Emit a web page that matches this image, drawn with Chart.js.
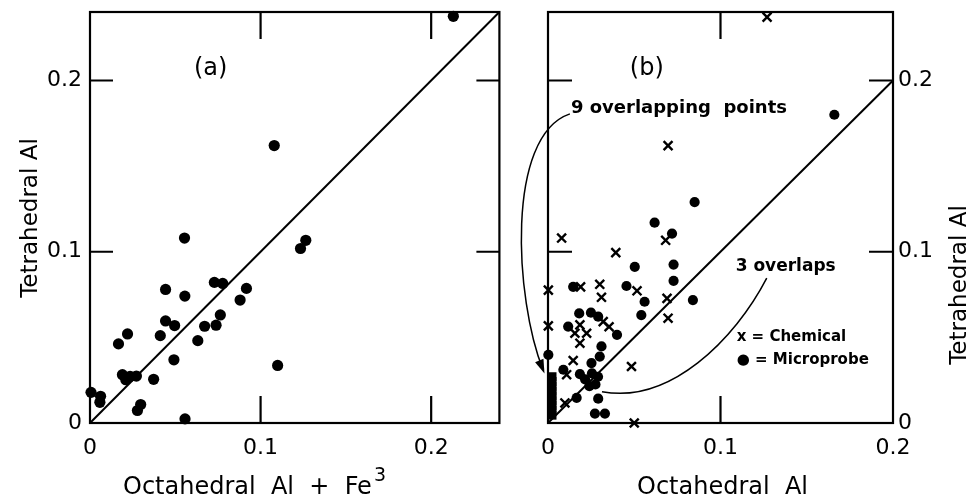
<!DOCTYPE html>
<html>
<head>
<meta charset="utf-8">
<title>Tetrahedral Al vs octahedral Al</title>
<script src="https://cdn.jsdelivr.net/npm/chart.js@4.4.1/dist/chart.umd.min.js"></script>
<style>
  body { margin: 0; background: #fff; }
  #figure { position: relative; width: 974px; height: 501px; }
  #figure canvas { position: absolute; top: 0; }
</style>
</head>
<body>
<div id="figure">
  <canvas id="panelA" width="505" height="501" style="left:0"></canvas>
  <canvas id="panelB" width="469" height="501" style="left:505px"></canvas>
</div>
<script>
"use strict";

// ticks shared by both panels
const tickValues = [0, 0.1, 0.2];
const tickLabels = ["0", "0.1", "0.2"];

// panel (a): octahedral Al + Fe3 against tetrahedral Al
const octaFeA = [0.213, 0.108, 0.0554, 0.1265, 0.1234, 0.0729, 0.0778, 0.0443, 0.0556, 0.0917, 0.088,
    0.0443, 0.0496, 0.0412, 0.022, 0.0167, 0.0672, 0.0739, 0.0764, 0.0632, 0.0492, 0.110, 0.019, 0.021,
    0.0235, 0.0272, 0.0373, 0.0006, 0.0062, 0.0058, 0.0297, 0.0278, 0.0557];
const tetraA = [0.2375, 0.162, 0.108, 0.1067, 0.1019, 0.0821, 0.0815, 0.078, 0.0741, 0.0786, 0.0718,
    0.0596, 0.0569, 0.051, 0.052, 0.0462, 0.0565, 0.0571, 0.0631, 0.0481, 0.0369, 0.0336, 0.0282, 0.0253,
    0.0272, 0.0274, 0.0255, 0.0179, 0.0156, 0.0121, 0.0108, 0.0073, 0.0024];
const oneToOneA = [0, 0.24];

// panel (b): octahedral Al against tetrahedral Al
const chemOcta = [0.127, 0.0696, 0.0079, 0.0393, 0.0682, 0.0002, 0.0189, 0.030, 0.031, 0.0516, 0.069,
    0.0696, 0.032, 0.0354, 0.0002, 0.0185, 0.0156, 0.0224, 0.0185, 0.0146, 0.0484, 0.0108, 0.0098, 0.050];
const chemTetra = [0.237, 0.162, 0.108, 0.0995, 0.1067, 0.0776, 0.0795, 0.081, 0.0734, 0.0772, 0.0728,
    0.0612, 0.0592, 0.0562, 0.0567, 0.0573, 0.0524, 0.0524, 0.0466, 0.0365, 0.033, 0.0282, 0.0117, 0.0];

const probeOcta = [0.166, 0.085, 0.0618, 0.0719, 0.0728, 0.0503, 0.0728, 0.0455, 0.0146, 0.084, 0.056,
    0.0541, 0.0181, 0.0249, 0.0291, 0.0117, 0.040, 0.031, 0.030, 0.0002, 0.0252, 0.0089, 0.0185, 0.0215,
    0.0255, 0.029, 0.0275, 0.024, 0.0291, 0.0166, 0.0272, 0.033];
const probeTetra = [0.180, 0.129, 0.117, 0.1106, 0.0925, 0.0912, 0.083, 0.080, 0.0795, 0.0718, 0.0708,
    0.063, 0.064, 0.0644, 0.0621, 0.0563, 0.0515, 0.0447, 0.0388, 0.0398, 0.035, 0.0311, 0.0285, 0.0255,
    0.029, 0.027, 0.0225, 0.0215, 0.0142, 0.0147, 0.0055, 0.0055];

// the 9 overlapping points on the zero line
const stackOcta = [0.0023, 0.0023, 0.0023, 0.0023, 0.0023, 0.0023, 0.0023, 0.0023, 0.0023];
const stackTetra = [0.0046, 0.0074, 0.0102, 0.013, 0.0158, 0.0186, 0.0214, 0.0242, 0.027];
const oneToOneB = [0, 0.2];

const toPoints = (xs, ys) => xs.map((x, i) => ({ x: x, y: ys[i] }));

Chart.defaults.font.family = "'DejaVu Sans', sans-serif";
Chart.defaults.color = "#000";

/**
 * Frame, inward ticks, notes, pointer curves and axis titles for each panel
 */
const decor = {
    panelA: {
        marks: { top: [0.1, 0.2], bottom: [0.1, 0.2], left: [0.1, 0.2], right: [0.1, 0.2], vLen: 27, hLen: 23 },
        notes: [
            { text: "(a)", x: 0.0707, y: 0.2067, font: "24px 'DejaVu Sans'", align: "center" },
        ],
        curves: [],
        titles: [
            { text: "Tetrahedral Al", ox: -59, oy: -205, rotate: true, font: "23px 'DejaVu Sans'" },
            { text: "Octahedral  Al  +  Fe", sup: "3", ox: 33, oy: 71, font: "24px 'DejaVu Sans'", supFont: "19px 'DejaVu Sans'" },
        ],
    },
    panelB: {
        marks: { top: [0.1], bottom: [0.1], left: [0.1, 0.2], right: [0.1, 0.2], vLen: 27, hLen: 24 },
        notes: [
            { text: "(b)", x: 0.0573, y: 0.2067, font: "24px 'DejaVu Sans'", align: "center" },
            { text: "9 overlapping  points", x: 0.0133, y: 0.184, font: "bold 18px 'DejaVu Sans'" },
            { text: "3 overlaps", x: 0.1088, y: 0.0916, font: "bold 17px 'DejaVu Sans'" },
            { text: "x = Chemical", x: 0.1094, y: 0.0503, font: "bold 15px 'DejaVu Sans'" },
            { text: "\u25CF = Microprobe", x: 0.1094, y: 0.0369, font: "bold 15px 'DejaVu Sans'" },
        ],
        curves: [
            { pts: [[0.0127, 0.1805], [-0.0249, 0.1677], [-0.0191, 0.0718], [-0.0029, 0.0311]], arrow: true },
            { pts: [[0.1268, 0.0846], [0.1082, 0.0485], [0.0706, 0.0108], [0.0313, 0.0183]], arrow: false },
        ],
        titles: [
            { text: "Tetrahedral Al", ox: 412, oy: -138, rotate: true, font: "23px 'DejaVu Sans'" },
            { text: "Octahedral  Al", ox: 89, oy: 71, font: "24px 'DejaVu Sans'" },
        ],
    },
};

const panelDecor = {
    id: "panelDecor",
    afterDraw(chart) {
        const cfg = decor[chart.canvas.id];
        const { ctx, chartArea: area } = chart;
        const px = (v) => chart.scales.x.getPixelForValue(v);
        const py = (v) => chart.scales.y.getPixelForValue(v);

        ctx.save();
        ctx.strokeStyle = "#000";
        ctx.fillStyle = "#000";
        ctx.lineWidth = 2.2;
        ctx.strokeRect(area.left, area.top, area.right - area.left, area.bottom - area.top);

        const m = cfg.marks;
        ctx.beginPath();
        m.top.forEach((v) => { ctx.moveTo(px(v), area.top); ctx.lineTo(px(v), area.top + m.vLen); });
        m.bottom.forEach((v) => { ctx.moveTo(px(v), area.bottom); ctx.lineTo(px(v), area.bottom - m.vLen); });
        m.left.forEach((v) => { ctx.moveTo(area.left, py(v)); ctx.lineTo(area.left + m.hLen, py(v)); });
        m.right.forEach((v) => { ctx.moveTo(area.right, py(v)); ctx.lineTo(area.right - m.hLen, py(v)); });
        ctx.stroke();

        ctx.textBaseline = "middle";
        cfg.notes.forEach((n) => {
            ctx.font = n.font;
            ctx.textAlign = n.align || "left";
            ctx.fillText(n.text, px(n.x), py(n.y));
        });

        ctx.lineWidth = 1.5;
        cfg.curves.forEach((c) => {
            const p = c.pts.map((q) => [px(q[0]), py(q[1])]);
            ctx.beginPath();
            ctx.moveTo(p[0][0], p[0][1]);
            ctx.bezierCurveTo(p[1][0], p[1][1], p[2][0], p[2][1], p[3][0], p[3][1]);
            ctx.stroke();
            if (c.arrow) {
                const ang = Math.atan2(p[3][1] - p[2][1], p[3][0] - p[2][0]);
                ctx.save();
                ctx.translate(p[3][0], p[3][1]);
                ctx.rotate(ang);
                ctx.beginPath();
                ctx.moveTo(4, 0);
                ctx.lineTo(-10, -4.5);
                ctx.lineTo(-10, 4.5);
                ctx.closePath();
                ctx.fill();
                ctx.restore();
            }
        });

        cfg.titles.forEach((t) => {
            const x = area.left + t.ox;
            const y = area.bottom + t.oy;
            ctx.font = t.font;
            if (t.rotate) {
                ctx.save();
                ctx.translate(x, y);
                ctx.rotate(-Math.PI / 2);
                ctx.textAlign = "center";
                ctx.textBaseline = "middle";
                ctx.fillText(t.text, 0, 0);
                ctx.restore();
            } else {
                ctx.textAlign = "left";
                ctx.textBaseline = "alphabetic";
                ctx.fillText(t.text, x, y);
                if (t.sup) {
                    const w = ctx.measureText(t.text).width;
                    ctx.font = t.supFont;
                    ctx.fillText(t.sup, x + w + 2, y - 13);
                }
            }
        });
        ctx.restore();
    },
};

function axisX(max) {
    return {
        type: "linear",
        position: "bottom",
        min: 0,
        max: max,
        afterBuildTicks: (scale) => { scale.ticks = tickValues.map((v) => ({ value: v })); },
        afterFit: (scale) => {
            scale.height = 78;
            scale.paddingLeft = 0;
            scale.paddingRight = 0;
        },
        grid: { display: false, drawTicks: false },
        border: { display: false },
        ticks: {
            font: { size: 22 },
            padding: 12,
            maxRotation: 0,
            callback: (value) => tickLabels[tickValues.indexOf(value)],
        },
    };
}

function axisY(position, width, padding) {
    return {
        type: "linear",
        position: position,
        min: 0,
        max: 0.24,
        afterBuildTicks: (scale) => { scale.ticks = tickValues.map((v) => ({ value: v })); },
        afterFit: (scale) => {
            scale.width = width;
            scale.paddingTop = 0;
            scale.paddingBottom = 0;
        },
        grid: { display: false, drawTicks: false },
        border: { display: false },
        ticks: {
            font: { size: 22 },
            padding: padding,
            callback: (value) => tickLabels[tickValues.indexOf(value)],
        },
    };
}

const baseOptions = {
    responsive: false,
    animation: false,
    events: [],
    plugins: { legend: { display: false }, tooltip: { enabled: false } },
};

new Chart(document.querySelector("#panelA"), {
    type: "scatter",
    data: {
        datasets: [
            {
                type: "line",
                data: toPoints(oneToOneA, oneToOneA),
                borderColor: "#000",
                borderWidth: 2,
                pointRadius: 0,
                clip: false,
            },
            {
                data: toPoints(octaFeA, tetraA),
                pointStyle: "circle",
                pointRadius: 5.6,
                backgroundColor: "#000",
                borderWidth: 0,
                clip: false,
            },
        ],
    },
    options: Object.assign({}, baseOptions, {
        layout: { padding: { top: 12, right: 4, left: 0, bottom: 0 } },
        scales: { x: axisX(0.24), y: axisY("left", 90, 8) },
    }),
    plugins: [panelDecor],
});

new Chart(document.querySelector("#panelB"), {
    type: "scatter",
    data: {
        datasets: [
            {
                type: "line",
                data: toPoints(oneToOneB, oneToOneB),
                borderColor: "#000",
                borderWidth: 2,
                pointRadius: 0,
                clip: false,
            },
            {
                label: "Chemical",
                data: toPoints(chemOcta, chemTetra),
                pointStyle: "crossRot",
                pointRadius: 6.3,
                borderColor: "#000",
                borderWidth: 2.4,
                clip: false,
            },
            {
                label: "Microprobe",
                data: toPoints(probeOcta, probeTetra),
                pointStyle: "circle",
                pointRadius: 5.1,
                backgroundColor: "#000",
                borderWidth: 0,
                clip: false,
            },
            {
                label: "9 overlapping points",
                data: toPoints(stackOcta, stackTetra),
                pointStyle: "rect",
                pointRadius: 6.4,
                backgroundColor: "#000",
                borderWidth: 0,
                clip: false,
            },
        ],
    },
    options: Object.assign({}, baseOptions, {
        layout: { padding: { top: 12, right: 0, left: 43, bottom: 0 } },
        scales: { x: axisX(0.2), y: axisY("right", 81, 5) },
    }),
    plugins: [panelDecor],
});
</script>
</body>
</html>
